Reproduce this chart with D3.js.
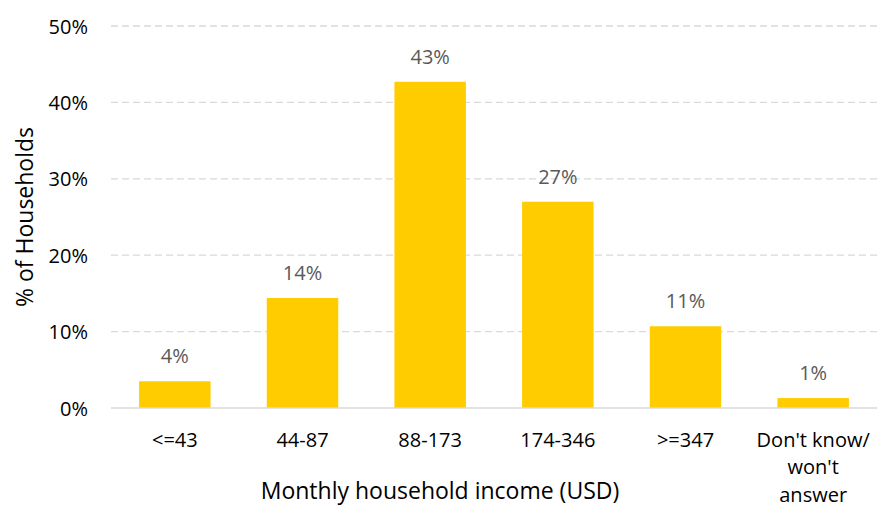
<!DOCTYPE html>
<html>
<head>
<meta charset="utf-8">
<script src="https://cdn.jsdelivr.net/npm/d3@7"></script>
<style>
  body { margin: 0; background: #fff; }
  svg { display: block; }
  svg text { font-family: "Open Sans", "Noto Sans", sans-serif; }
</style>
</head>
<body>
<svg id="chart" width="877" height="507"></svg>
<script>
// Share of households by monthly income band (USD)
const categories = ["<=43", "44-87", "88-173", "174-346", ">=347", "Don't know/ won't answer"];
const shares = [3.5, 14.4, 42.7, 27.0, 10.7, 1.3];
const yTicks = [0, 10, 20, 30, 40, 50];

const W = 877, H = 507;
const margin = { top: 26, right: 0, bottom: 99, left: 111 };
const svg = d3.select("#chart");

const x = d3.scaleBand()
  .domain(categories)
  .range([margin.left, W - margin.right])
  .paddingInner(0.44)
  .paddingOuter(0.22);

const y = d3.scaleLinear()
  .domain([0, 50])
  .range([H - margin.bottom, margin.top]);

// dashed gridlines
svg.append("g")
  .selectAll("line")
  .data(yTicks.filter(t => t > 0))
  .join("line")
  .attr("x1", margin.left).attr("x2", W - margin.right)
  .attr("y1", d => y(d)).attr("y2", d => y(d))
  .attr("stroke", "#d9d9d9").attr("stroke-width", 1.3)
  .attr("stroke-dasharray", "7,4");

// y axis labels
const yAxis = svg.append("g")
  .attr("transform", `translate(${margin.left},0)`)
  .call(d3.axisLeft(y).tickValues(yTicks).tickFormat(d => d + "%").tickSize(0).tickPadding(23));
yAxis.attr("font-family", null).attr("font-size", null);
yAxis.select(".domain").remove();
yAxis.selectAll("text").attr("font-size", 20).attr("fill", "#000").attr("dy", "0.35em");

// bars
svg.append("g")
  .selectAll("rect")
  .data(categories)
  .join("rect")
  .attr("x", d => x(d))
  .attr("width", x.bandwidth())
  .attr("y", (d, i) => y(shares[i]))
  .attr("height", (d, i) => y(0) - y(shares[i]))
  .attr("fill", "#ffcc00");

// value labels
svg.append("g")
  .selectAll("text")
  .data(categories)
  .join("text")
  .attr("x", d => x(d) + x.bandwidth() / 2)
  .attr("y", (d, i) => y(shares[i]) - 18)
  .attr("text-anchor", "middle")
  .attr("font-size", 20)
  .attr("fill", "#595959")
  .text((d, i) => Math.round(shares[i]) + "%");

// baseline
svg.append("line")
  .attr("x1", margin.left).attr("x2", W - margin.right)
  .attr("y1", y(0)).attr("y2", y(0))
  .attr("stroke", "#d9d9d9").attr("stroke-width", 1.5);

// x axis category labels, wrapped
const xAxis = svg.append("g")
  .attr("transform", `translate(0,${y(0)})`)
  .call(d3.axisBottom(x).tickSize(0).tickPadding(0));
xAxis.attr("font-family", null).attr("font-size", null);
xAxis.select(".domain").remove();
xAxis.selectAll("text").remove();
xAxis.selectAll(".tick").each(function (d) {
  const lines = d === "Don't know/ won't answer" ? ["Don't know/", "won't", "answer"] : [d];
  const t = d3.select(this).append("text")
    .attr("text-anchor", "middle")
    .attr("font-size", 20)
    .attr("fill", "#000");
  lines.forEach((s, i) => t.append("tspan").attr("x", 0).attr("y", 38.5 + i * 27.5).text(s));
});

// axis titles
svg.append("text")
  .attr("x", 440)
  .attr("y", 499)
  .attr("text-anchor", "middle")
  .attr("font-size", 23)
  .attr("fill", "#000")
  .text("Monthly household income (USD)");

svg.append("text")
  .attr("transform", `translate(33,${(margin.top + y(0)) / 2}) rotate(-90)`)
  .attr("text-anchor", "middle")
  .attr("font-size", 23)
  .attr("fill", "#000")
  .text("% of Households");
</script>
</body>
</html>
